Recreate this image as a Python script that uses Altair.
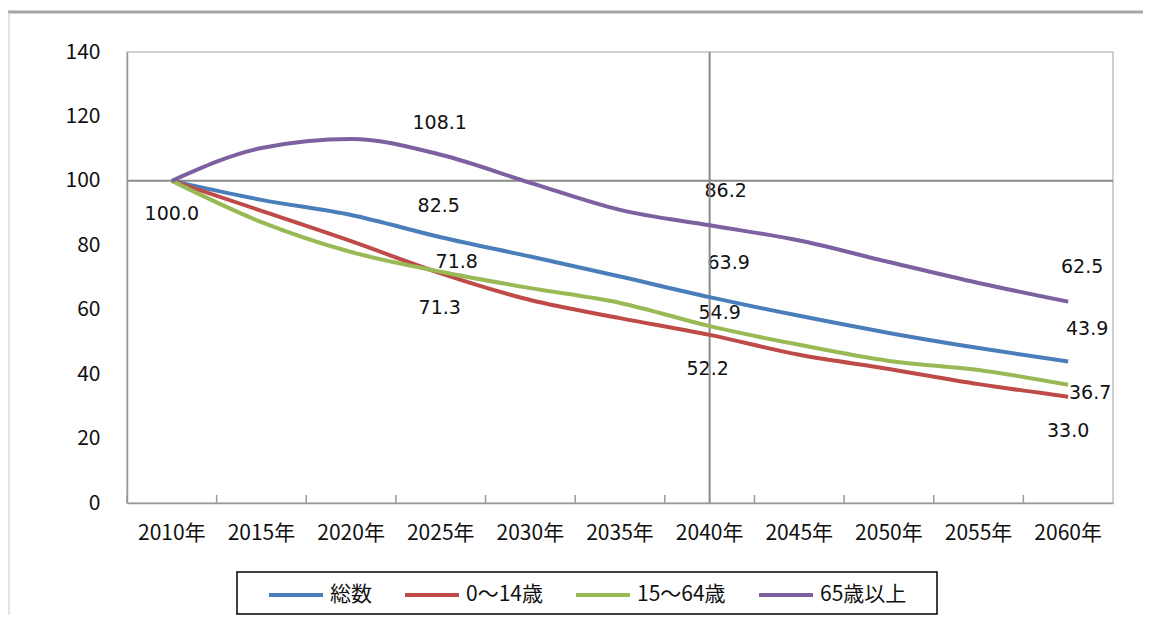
import altair as alt
import pandas as pd

years = ["2010年", "2015年", "2020年", "2025年", "2030年", "2035年",
         "2040年", "2045年", "2050年", "2055年", "2060年"]
series = ["総数", "0〜14歳", "15〜64歳", "65歳以上"]
total = [100.0, 94.1, 89.4, 82.5, 76.5, 70.3, 63.9, 58.1, 52.8, 48.1, 43.9]
child = [100.0, 90.7, 81.3, 71.3, 63.0, 57.4, 52.2, 46.0, 41.6, 36.9, 33.0]
working = [100.0, 87.2, 77.9, 71.8, 66.7, 62.1, 54.9, 49.1, 44.1, 41.3, 36.7]
elderly = [100.0, 110.2, 113.0, 108.1, 99.4, 91.0, 86.2, 81.5, 74.8, 68.3, 62.5]
colors = ["#4A7EBB", "#BE4B48", "#98B954", "#7D60A0"]

rows = []
for s, vals in zip(series, [total, child, working, elderly]):
    for y, v in zip(years, vals):
        rows.append({"year": y, "series": s, "value": v})
df = pd.DataFrame(rows)

# label placement (style only): (series, year) -> (dx, dy)
label_offsets = {
    ("総数", "2010年"): (0, 33),
    ("65歳以上", "2025年"): (-1, -32),
    ("総数", "2025年"): (-2, -31),
    ("15〜64歳", "2025年"): (16, -10),
    ("0〜14歳", "2025年"): (-1, 35),
    ("65歳以上", "2040年"): (16, -34),
    ("総数", "2040年"): (19, -34),
    ("15〜64歳", "2040年"): (10, -13),
    ("0〜14歳", "2040年"): (-2, 34),
    ("65歳以上", "2060年"): (14, -35),
    ("総数", "2060年"): (19, -33),
    ("15〜64歳", "2060年"): (22, 8),
    ("0〜14歳", "2060年"): (0, 34),
}

W, H = 986, 451
STEP = W / len(years)
AX = "#999999"
FONT = "Noto Sans CJK JP"

xscale = alt.Scale(type="band", domain=years, paddingInner=0, paddingOuter=0)
yscale = alt.Scale(domain=[0, 140], nice=False, zero=True)

xenc = alt.X("year:N", scale=xscale,
             axis=alt.Axis(title=None, labelAngle=0, ticks=False, domainColor=AX,
                           domainWidth=1.5, labelFont=FONT, labelFontSize=21,
                           labelColor="#111111", labelPadding=30, bandPosition=0.5,
                           labelAlign="center"))
yenc = alt.Y("value:Q", scale=yscale,
             axis=alt.Axis(title=None, values=[0, 20, 40, 60, 80, 100, 120, 140],
                           grid=False, ticks=False, domainColor=AX, domainWidth=1.5,
                           labelFont=FONT, labelFontSize=21, labelColor="#111111",
                           labelPadding=27))

base = alt.Chart(df)

lines = base.mark_line(strokeWidth=4, interpolate="monotone").encode(
    x=xenc, y=yenc,
    color=alt.Color("series:N", sort=series,
                    scale=alt.Scale(domain=series, range=colors),
                    legend=alt.Legend(title=None, orient="none", legendX=140, legendY=514,
                                      direction="horizontal", symbolType="stroke",
                                      symbolSize=2916, symbolStrokeWidth=4,
                                      labelFont=FONT, labelFontSize=21, labelColor="#111111",
                                      columnPadding=25, labelOffset=5, padding=0,
                                      labelLimit=0)),
    order=alt.Order("series:N"),
)

text_layers = []
for (s, y), (dx, dy) in label_offsets.items():
    text_layers.append(
        base.transform_filter((alt.datum.series == s) & (alt.datum.year == y))
        .mark_text(dx=dx, dy=dy, font="DejaVu Sans", fontSize=19, color="#111111")
        .encode(x=alt.X("year:N", scale=xscale), y=alt.Y("value:Q", scale=yscale),
                text=alt.Text("value:Q", format=".1f"))
    )

h100 = alt.Chart(pd.DataFrame({"value": [100]})).mark_rule(color="#8a8a8a", strokeWidth=2).encode(
    y=alt.Y("value:Q", scale=yscale))
v2040 = alt.Chart(pd.DataFrame({"year": ["2040年"]})).mark_rule(color="#8a8a8a", strokeWidth=2).encode(
    x=alt.X("year:N", scale=xscale))

ticks = alt.Chart(pd.DataFrame({"year": years})).mark_rule(
    color=AX, strokeWidth=1.5, xOffset=-STEP / 2).encode(
    x=alt.X("year:N", scale=xscale),
    y=alt.value(H), y2=alt.value(H - 8))

legend_box = alt.Chart(pd.DataFrame({"a": [0]})).mark_rect(
    fillOpacity=0, stroke="#000000", strokeWidth=1.5).encode(
    x=alt.value(110), x2=alt.value(810), y=alt.value(520), y2=alt.value(562))

outer_top = alt.Chart(pd.DataFrame({"a": [0]})).mark_rule(color="#a6a6a6", strokeWidth=3).encode(
    x=alt.value(-119), x2=alt.value(1020), y=alt.value(-40))
outer_left = alt.Chart(pd.DataFrame({"a": [0]})).mark_rule(color="#c8c8c8", strokeWidth=1).encode(
    x=alt.value(-118), y=alt.value(-40), y2=alt.value(600))

chart = alt.layer(outer_top, outer_left, legend_box, ticks, *text_layers, h100, v2040, lines).properties(
    width=W, height=H,
    autosize=alt.AutoSizeParams(type="none"),
    padding={"left": 119, "top": 44, "right": 30, "bottom": 112},
).configure_view(stroke="#c0c0c0", strokeWidth=1.5)

chart.save("out.html", embed_options={"renderer": "svg", "actions": False})
